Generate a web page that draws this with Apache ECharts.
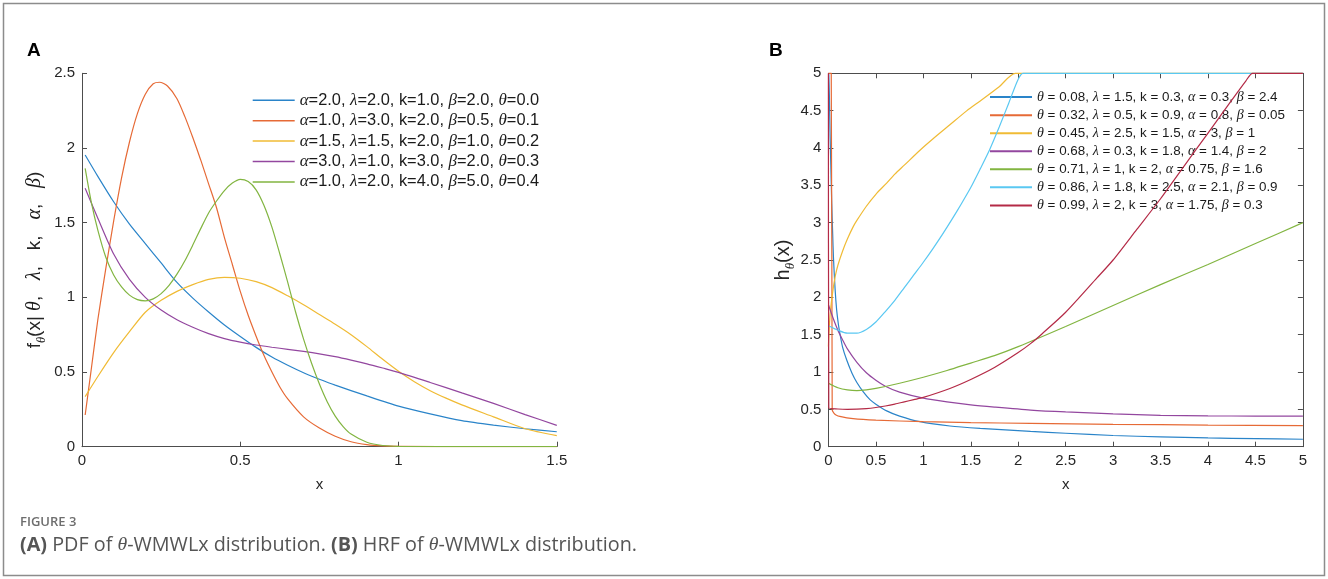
<!DOCTYPE html>
<html>
<head>
<meta charset="utf-8">
<script src="https://cdn.jsdelivr.net/npm/echarts@6.0.0/dist/echarts.min.js"></script>
<style>
html, body { margin: 0; padding: 0; background: #fff; }
#chart { width: 1328px; height: 579px; }
</style>
</head>
<body>
<div id="chart"></div>
<script>
// panel A: PDF curves, [x, f(x)]
const pdfNames = [
  "α=2.0, λ=2.0, k=1.0, β=2.0, θ=0.0",
  "α=1.0, λ=3.0, k=2.0, β=0.5, θ=0.1",
  "α=1.5, λ=1.5, k=2.0, β=1.0, θ=0.2",
  "α=3.0, λ=1.0, k=3.0, β=2.0, θ=0.3",
  "α=1.0, λ=2.0, k=4.0, β=5.0, θ=0.4",
];
const pdfBlue = [[0.01,1.953],[0.05,1.81],[0.1,1.64],[0.15,1.49],[0.2,1.36],[0.25,1.23],[0.3,1.10],[0.35,0.995],[0.4,0.902],[0.45,0.815],[0.5,0.738],[0.55,0.665],[0.6,0.60],[0.65,0.545],[0.7,0.495],[0.75,0.452],[0.8,0.412],[0.9,0.34],[1.0,0.272],[1.1,0.22],[1.2,0.175],[1.3,0.145],[1.4,0.12],[1.5,0.10]];
const pdfOrange = [[0.01,0.212],[0.03,0.53],[0.05,0.85],[0.075,1.19],[0.1,1.51],[0.125,1.8],[0.15,2.04],[0.175,2.23],[0.2,2.36],[0.225,2.43],[0.245,2.44],[0.27,2.415],[0.3,2.33],[0.325,2.21],[0.35,2.07],[0.375,1.92],[0.4,1.76],[0.425,1.6],[0.45,1.40],[0.475,1.22],[0.5,1.04],[0.525,0.88],[0.55,0.74],[0.575,0.61],[0.6,0.5],[0.625,0.4],[0.65,0.32],[0.7,0.2],[0.75,0.125],[0.8,0.07],[0.85,0.033],[0.9,0.014],[0.95,0.005],[1.0,0.002],[1.25,0],[1.5,0]];
const pdfYellow = [[0.01,0.335],[0.05,0.47],[0.1,0.63],[0.15,0.77],[0.2,0.9],[0.25,0.98],[0.3,1.04],[0.35,1.085],[0.4,1.12],[0.45,1.134],[0.5,1.128],[0.55,1.105],[0.6,1.065],[0.65,1.01],[0.7,0.95],[0.75,0.885],[0.8,0.82],[0.85,0.75],[0.9,0.67],[0.95,0.585],[1.0,0.505],[1.05,0.435],[1.1,0.375],[1.15,0.325],[1.2,0.28],[1.3,0.2],[1.4,0.12],[1.5,0.074]];
const pdfPurple = [[0.01,1.73],[0.05,1.53],[0.1,1.29],[0.15,1.12],[0.2,1.0],[0.25,0.915],[0.3,0.85],[0.35,0.8],[0.4,0.757],[0.45,0.724],[0.5,0.7],[0.55,0.681],[0.6,0.666],[0.65,0.652],[0.7,0.638],[0.75,0.622],[0.8,0.603],[0.85,0.58],[0.9,0.555],[0.95,0.527],[1.0,0.498],[1.1,0.43],[1.2,0.36],[1.3,0.29],[1.4,0.215],[1.5,0.143]];
const pdfGreen = [[0.01,1.863],[0.03,1.63],[0.05,1.45],[0.075,1.27],[0.1,1.15],[0.125,1.07],[0.15,1.015],[0.175,0.985],[0.2,0.977],[0.225,0.99],[0.25,1.025],[0.275,1.08],[0.3,1.155],[0.325,1.245],[0.35,1.35],[0.375,1.46],[0.4,1.565],[0.425,1.645],[0.45,1.715],[0.475,1.765],[0.5,1.79],[0.525,1.775],[0.55,1.72],[0.575,1.615],[0.6,1.47],[0.625,1.29],[0.65,1.1],[0.675,0.9],[0.7,0.72],[0.725,0.56],[0.75,0.42],[0.775,0.3],[0.8,0.205],[0.825,0.135],[0.85,0.085],[0.9,0.03],[0.95,0.008],[1.0,0.002],[1.25,0],[1.5,0]];

// panel B: HRF curves (capped at 5 in the figure)
const hrfNames = [
  "θ = 0.08, λ = 1.5, k = 0.3, α = 0.3, β = 2.4",
  "θ = 0.32, λ = 0.5, k = 0.9, α = 0.8, β = 0.05",
  "θ = 0.45, λ = 2.5, k = 1.5, α = 3, β = 1",
  "θ = 0.68, λ = 0.3, k = 1.8, α = 1.4, β = 2",
  "θ = 0.71, λ = 1, k = 2, α = 0.75, β = 1.6",
  "θ = 0.86, λ = 1.8, k = 2.5, α = 2.1, β = 0.9",
  "θ = 0.99, λ = 2, k = 3, α = 1.75, β = 0.3",
];
const hrfBlue = [[0.004,5],[0.01,4.72],[0.018,4.15],[0.027,3.7],[0.035,3.26],[0.045,2.85],[0.053,2.54],[0.07,2.12],[0.087,1.83],[0.105,1.64],[0.122,1.51],[0.15,1.33],[0.193,1.16],[0.25,0.98],[0.3,0.86],[0.37,0.73],[0.438,0.63],[0.5,0.57],[0.614,0.48],[0.75,0.41],[0.965,0.335],[1.28,0.277],[1.6,0.245],[2.13,0.205],[2.5,0.18],[3,0.15],[3.5,0.132],[4,0.118],[4.5,0.108],[5,0.1]];
const hrfOrange = [[0,5],[0.03,5],[0.04,0.49],[0.06,0.445],[0.08,0.425],[0.12,0.405],[0.26,0.375],[0.5,0.355],[1,0.335],[1.5,0.322],[2.13,0.313],[3,0.3],[4,0.29],[5,0.283]];
const hrfYellow = [[0,1.34],[0.005,1.5],[0.012,1.66],[0.025,1.86],[0.04,2.02],[0.053,2.14],[0.075,2.3],[0.1,2.43],[0.15,2.62],[0.2,2.78],[0.263,2.95],[0.3,3.03],[0.4,3.22],[0.5,3.38],[0.614,3.53],[0.7,3.65],[0.8,3.77],[0.965,3.97],[1.1,4.12],[1.28,4.31],[1.46,4.5],[1.6,4.63],[1.8,4.82],[1.97,5],[3,5],[5,5]];
const hrfPurple = [[0,1.9],[0.05,1.72],[0.1,1.56],[0.15,1.43],[0.2,1.31],[0.3,1.13],[0.4,0.99],[0.5,0.89],[0.6,0.81],[0.75,0.73],[1.0,0.65],[1.25,0.6],[1.5,0.56],[1.75,0.53],[2.13,0.49],[2.5,0.465],[3,0.44],[3.5,0.42],[4,0.413],[4.5,0.41],[5,0.41]];
const hrfGreen = [[0,0.85],[0.1,0.79],[0.2,0.76],[0.3,0.75],[0.4,0.76],[0.5,0.78],[0.75,0.85],[1.0,0.93],[1.25,1.02],[1.5,1.12],[1.75,1.22],[2.0,1.34],[2.5,1.61],[3.0,1.89],[3.5,2.17],[4.0,2.44],[4.5,2.72],[5,3.0]];
const hrfCyan = [[0,1.62],[0.1,1.56],[0.2,1.52],[0.3,1.52],[0.4,1.57],[0.5,1.67],[0.6,1.81],[0.7,1.96],[0.8,2.13],[0.9,2.3],[1.0,2.47],[1.1,2.65],[1.2,2.84],[1.3,3.04],[1.4,3.25],[1.5,3.47],[1.6,3.72],[1.7,3.98],[1.8,4.28],[1.9,4.6],[2.0,4.92],[2.05,5],[3,5],[5,5]];
const hrfRed = [[0,5],[0.004,0.52],[0.1,0.505],[0.2,0.5],[0.3,0.502],[0.4,0.51],[0.5,0.525],[0.6,0.545],[0.7,0.57],[0.8,0.6],[0.9,0.63],[1.0,0.66],[1.28,0.78],[1.5,0.9],[1.75,1.06],[2.0,1.26],[2.13,1.38],[2.25,1.51],[2.5,1.8],[2.83,2.26],[3.0,2.5],[3.25,2.91],[3.5,3.32],[3.75,3.76],[4.0,4.2],[4.25,4.64],[4.4,4.9],[4.47,5],[5,5]];

const pdfXTicks = [0, 0.5, 1, 1.5];
const pdfYTicks = [0, 0.5, 1, 1.5, 2, 2.5];
const hrfXTicks = [0, 0.5, 1, 1.5, 2, 2.5, 3, 3.5, 4, 4.5, 5];
const hrfYTicks = [0, 0.5, 1, 1.5, 2, 2.5, 3, 3.5, 4, 4.5, 5];

const pdfData = [pdfBlue, pdfOrange, pdfYellow, pdfPurple, pdfGreen];
const hrfData = [hrfBlue, hrfOrange, hrfYellow, hrfPurple, hrfGreen, hrfCyan, hrfRed];
const colors = ["#2a84c9", "#e66a36", "#f0bb35", "#93479f", "#82b541", "#5ac8f2", "#b42a46"];

const sans = "Liberation Sans";
const greekStyle = { fontFamily: "Liberation Serif", fontStyle: "italic", color: "#1a1a1a" };

function greek(s) {
  return s.replace(/([αβλθ])/g, "{g|$1}");
}

function valueAxis(ticks, grid, pos, showLabels) {
  return {
    type: "value",
    gridIndex: grid,
    position: pos,
    min: ticks[0],
    max: ticks[ticks.length - 1],
    interval: ticks[1] - ticks[0],
    splitLine: { show: false },
    axisLine: { show: true, onZero: false, lineStyle: { color: "#4d4d4d", width: 1 } },
    axisTick: { show: true, inside: true, length: 5, lineStyle: { color: "#4d4d4d" } },
    axisLabel: { show: showLabels, color: "#262626", fontSize: 15, fontFamily: sans, margin: 7 },
  };
}

var chartDom = document.getElementById("chart");
var myChart = echarts.init(chartDom, null, { renderer: "canvas" });

var series = [];
pdfData.forEach(function(d, i) {
  series.push({
    name: pdfNames[i], type: "line", data: d,
    xAxisIndex: 0, yAxisIndex: 0,
    symbol: "none", smooth: 0.25,
    lineStyle: { width: 1.2, color: colors[i] }, itemStyle: { color: colors[i] },
    z: 2 + i,
  });
});
hrfData.forEach(function(d, i) {
  series.push({
    name: hrfNames[i], type: "line", data: d,
    xAxisIndex: 1, yAxisIndex: 1,
    symbol: "none", smooth: 0.25, clip: false,
    lineStyle: { width: 1.2, color: colors[i] }, itemStyle: { color: colors[i] },
    z: 2 + i,
  });
});

var nameRich = {
  i: { fontSize: 19, fontFamily: sans, color: "#262626", lineHeight: 26, verticalAlign: "middle" },
  s: { fontSize: 12.5, fontFamily: "Liberation Serif", fontStyle: "italic", color: "#262626", lineHeight: 26, verticalAlign: "bottom" },
  g: Object.assign({ fontSize: 20, lineHeight: 26, verticalAlign: "middle" }, greekStyle),
};
var hRich = {
  i: { fontSize: 20, fontFamily: sans, color: "#262626", lineHeight: 26, verticalAlign: "middle" },
  s: { fontSize: 13, fontFamily: "Liberation Serif", fontStyle: "italic", color: "#262626", lineHeight: 26, verticalAlign: "bottom" },
};

var xA = valueAxis(pdfXTicks, 0, "bottom", true);
xA.name = "x"; xA.nameLocation = "middle"; xA.nameGap = 31;
xA.nameTextStyle = { fontSize: 15, fontFamily: sans, color: "#262626" };
var yA = valueAxis(pdfYTicks, 0, "left", true);
yA.name = "{i|f}{s|θ}{i|(x| }{g|θ}{i|,   }{g|λ}{i|,   k,   }{g|α}{i|,   }{g|β}{i|)}";
yA.nameLocation = "middle"; yA.nameGap = 34;
yA.nameTextStyle = { fontSize: 19, fontFamily: sans, color: "#262626", rich: nameRich };

var xB = valueAxis(hrfXTicks, 1, "bottom", true);
xB.name = "x"; xB.nameLocation = "middle"; xB.nameGap = 31;
xB.nameTextStyle = { fontSize: 15, fontFamily: sans, color: "#262626" };
var yB = valueAxis(hrfYTicks, 1, "left", true);
yB.name = "{i|h}{s|θ}{i|(x)}";
yB.nameLocation = "middle"; yB.nameGap = 31;
yB.nameTextStyle = { fontSize: 20, fontFamily: sans, color: "#262626", rich: hRich };
var xBTop = valueAxis(hrfXTicks, 1, "top", false);
var yBRight = valueAxis(hrfYTicks, 1, "right", false);

var option = {
  backgroundColor: "#ffffff",
  animation: false,
  grid: [
    { left: 82, top: 73.3, width: 474.8, height: 373.4 },
    { left: 828.4, top: 73.3, width: 474.5, height: 373.4 },
  ],
  xAxis: [xA, xB, xBTop],
  yAxis: [yA, yB, yBRight],
  legend: [
    {
      id: "legendA",
      data: pdfNames, orient: "vertical", left: 252.7, top: 91.3, padding: 0,
      icon: "rect", itemWidth: 42, itemHeight: 1.5, itemGap: 2.4,
      formatter: greek,
      textStyle: {
        fontSize: 16.4, fontFamily: sans, color: "#1a1a1a", lineHeight: 18,
        rich: { g: Object.assign({ fontSize: 17, lineHeight: 18 }, greekStyle) },
      },
      selectedMode: false,
    },
    {
      id: "legendB",
      data: hrfNames, orient: "vertical", left: 990, top: 89.6, padding: 0,
      icon: "rect", itemWidth: 42, itemHeight: 2, itemGap: 3.05,
      formatter: greek,
      textStyle: {
        fontSize: 13.4, fontFamily: sans, color: "#1a1a1a", lineHeight: 15,
        rich: { g: Object.assign({ fontSize: 14, lineHeight: 15 }, greekStyle) },
      },
      selectedMode: false,
    },
  ],
  series: series,
  graphic: [
    { type: "rect", shape: { x: 3.5, y: 3.5, width: 1321, height: 572 }, style: { fill: null, stroke: "#8c8c8c", lineWidth: 1.5 }, silent: true },
    { type: "text", left: 27, top: 41, style: { text: "A", fontSize: 19, fontWeight: "bold", fontFamily: sans, fill: "#000" } },
    { type: "text", left: 769, top: 41, style: { text: "B", fontSize: 19, fontWeight: "bold", fontFamily: sans, fill: "#000" } },
    { type: "text", left: 20, top: 516, style: { text: "FIGURE 3", fontSize: 13, fontWeight: 600, fontFamily: "Open Sans", fill: "#6e6e6e" } },
    {
      type: "text", left: 20, top: 535,
      style: {
        text: "{b|(A)} PDF of {g|θ}-WMWLx distribution. {b|(B)} HRF of {g|θ}-WMWLx distribution.",
        fontSize: 19.8, fontFamily: "Open Sans", fill: "#555555",
        rich: {
          b: { fontSize: 19.8, fontFamily: "Open Sans", fontWeight: "bold", fill: "#555555" },
          g: { fontSize: 19.8, fontFamily: "Liberation Serif", fontStyle: "italic", fill: "#555555" },
        },
      },
    },
  ],
};

myChart.setOption(option);

window.addEventListener("resize", function() {
  myChart.resize();
});
</script>
</body>
</html>
